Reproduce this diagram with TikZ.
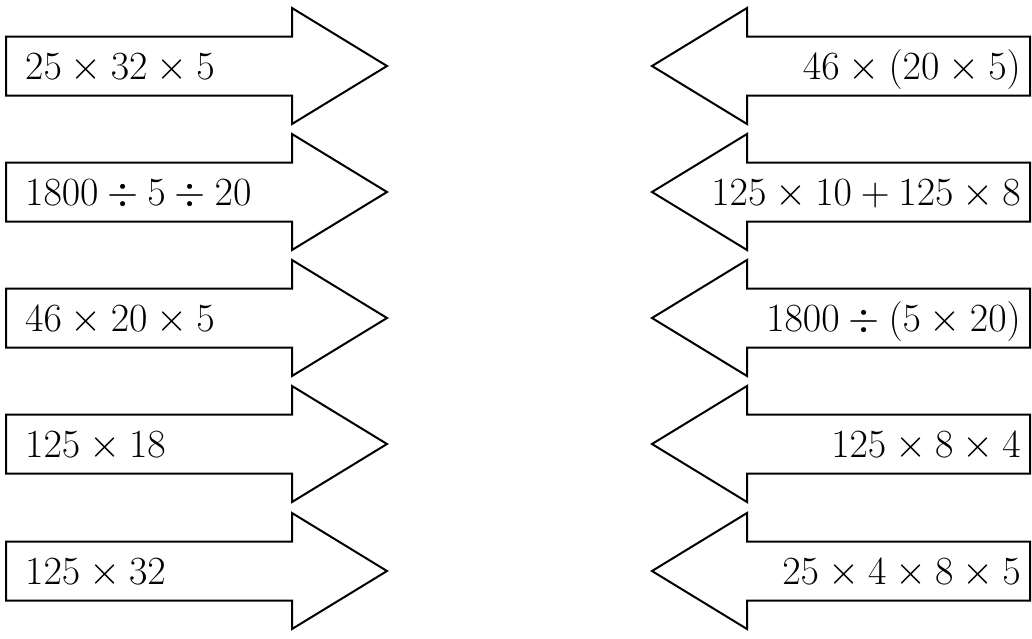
\RequirePackage{fix-cm}
\documentclass[tikz,border=0pt]{standalone}
\usepackage{amsmath}

\tikzset{
	arrowbox/.style = {draw, line width=2pt, line join=miter, fill=white},
	exprtext/.style = {inner sep=0pt, font=\fontsize{40}{46}\selectfont}
}

\begin{document}
\begin{tikzpicture}[x=1pt,y=-1pt]
\useasboundingbox (0,0) rectangle (1032,638);
%
	\foreach \c/\n/\e in {66/1/{25\times32\times5}, 192/2/{1800\div5\div20}, 318/3/{46\times20\times5}, 444/4/{125\times18}, 571/5/{125\times32}} {
		\draw[arrowbox] (6,\c-29.5) -- (292,\c-29.5) -- (292,\c-58) -- (387,\c) -- (292,\c+58) -- (292,\c+29.5) -- (6,\c+29.5) -- cycle;
		\node[exprtext, anchor=base west] (l\n) at (25,\c+13.5) {$\e$};
	}
%
	\foreach \c/\n/\e in {66/1/{46\times(20\times5)}, 192/2/{125\times10+125\times8}, 318/3/{1800\div(5\times20)}, 444/4/{125\times8\times4}, 571/5/{25\times4\times8\times5}} {
		\draw[arrowbox] (652,\c) -- (747,\c-58) -- (747,\c-29.5) -- (1030,\c-29.5) -- (1030,\c+29.5) -- (747,\c+29.5) -- (747,\c+58) -- cycle;
		\node[exprtext, anchor=base east] (r\n) at (1021,\c+13.5) {$\e$};
	}
\end{tikzpicture}
\end{document}
